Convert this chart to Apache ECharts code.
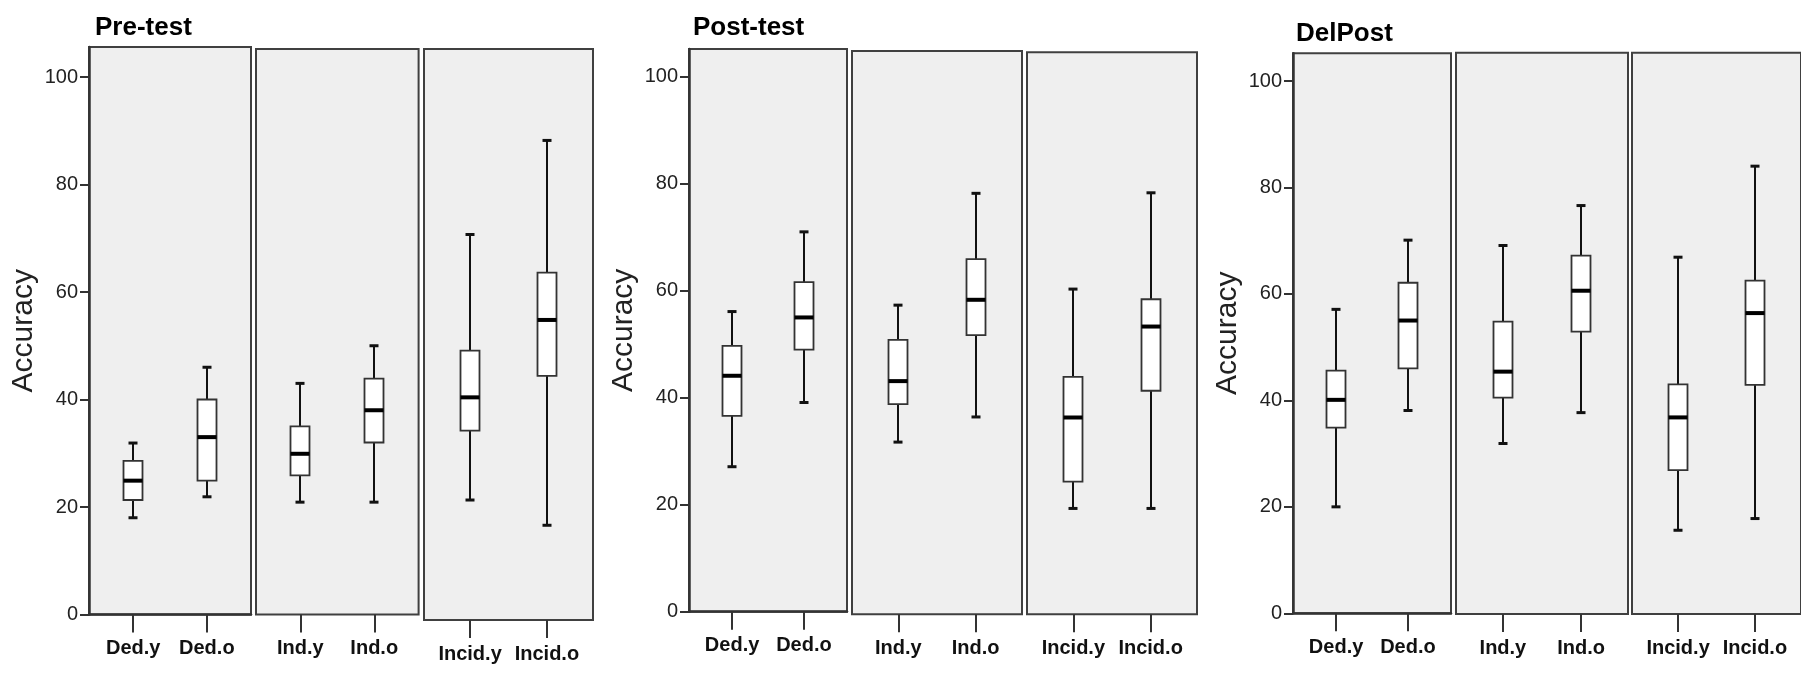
<!DOCTYPE html>
<html><head><meta charset="utf-8">
<script src="https://cdn.jsdelivr.net/npm/echarts@6/dist/echarts.min.js"></script>
<style>html,body{margin:0;padding:0;background:#fff}#c{width:1801px;height:674px}</style>
</head><body><div id="c"></div>
<script>
const testNames = ['Pre-test', 'Post-test', 'DelPost'];
const groupCats = [['Ded.y', 'Ded.o'], ['Ind.y', 'Ind.o'], ['Incid.y', 'Incid.o']];
const yTicks = [0, 20, 40, 60, 80, 100];
const yName = 'Accuracy';
// order in each array: Ded.y, Ded.o, Ind.y, Ind.o, Incid.y, Incid.o
const preLow    = [18.0, 21.9, 20.9, 20.9, 21.3, 16.6];
const preQ1     = [21.3, 24.9, 25.9, 32.0, 34.2, 44.4];
const preMedian = [24.9, 33.0, 29.9, 38.0, 40.4, 54.8];
const preQ3     = [28.6, 40.0, 35.0, 43.9, 49.1, 63.6];
const preHigh   = [31.9, 46.0, 43.0, 50.0, 70.7, 88.2];
const postLow    = [27.1, 39.1, 31.7, 36.4, 19.3, 19.3];
const postQ1     = [36.6, 49.0, 38.8, 51.7, 24.3, 41.3];
const postMedian = [44.1, 55.0, 43.1, 58.3, 36.3, 53.3];
const postQ3     = [49.7, 61.6, 50.8, 65.9, 43.9, 58.4];
const postHigh   = [56.1, 71.0, 57.3, 78.2, 60.3, 78.3];
const delLow    = [20.0, 38.1, 31.9, 37.7, 15.6, 17.8];
const delQ1     = [34.9, 46.0, 40.5, 52.9, 26.9, 42.9];
const delMedian = [40.1, 55.0, 45.4, 60.6, 36.8, 56.4];
const delQ3     = [45.6, 62.1, 54.8, 67.2, 43.0, 62.5];
const delHigh   = [57.1, 70.1, 69.1, 76.6, 66.9, 84.0];

const stats = [
  [preLow, preQ1, preMedian, preQ3, preHigh],
  [postLow, postQ1, postMedian, postQ3, postHigh],
  [delLow, delQ1, delMedian, delQ3, delHigh]
];

// layout (pixels): zero line, px per unit, panels [left,right,top,bottom]
const layout = [
  {title: [95, 15], zero: 614.5, k: 5.375, panels: [[89, 251, 47, 614.5], [256, 418.6, 49, 614.5], [424, 593, 49, 620]]},
  {title: [693, 15], zero: 611.7, k: 5.35, panels: [[689, 847, 49, 611.7], [852, 1022, 51, 614.3], [1027, 1197, 52.3, 614.3]]},
  {title: [1296, 20.5], zero: 613.3, k: 5.323, panels: [[1293, 1451, 53.3, 613.3], [1456, 1628, 52.7, 614], [1632, 1803, 52.7, 614]]}
];

const FONT = '"Liberation Sans", Arial, sans-serif';

function renderBox(params, api) {
  const x = api.value(0);
  const pLo = api.coord([x, api.value(1)]);
  const pQ1 = api.coord([x, api.value(2)]);
  const pMed = api.coord([x, api.value(3)]);
  const pQ3 = api.coord([x, api.value(4)]);
  const pHi = api.coord([x, api.value(5)]);
  const cx = Math.round(pLo[0]);
  const bw = 19, cw = 9;
  return {
    type: 'group',
    children: [
      {type: 'line', shape: {x1: cx, y1: pHi[1], x2: cx, y2: pQ3[1]}, style: {stroke: '#111', lineWidth: 2}},
      {type: 'line', shape: {x1: cx, y1: pQ1[1], x2: cx, y2: pLo[1]}, style: {stroke: '#111', lineWidth: 2}},
      {type: 'line', shape: {x1: cx - cw / 2, y1: pHi[1], x2: cx + cw / 2, y2: pHi[1]}, style: {stroke: '#111', lineWidth: 3}},
      {type: 'line', shape: {x1: cx - cw / 2, y1: pLo[1], x2: cx + cw / 2, y2: pLo[1]}, style: {stroke: '#111', lineWidth: 3}},
      {type: 'rect', shape: {x: cx - bw / 2, y: pQ3[1], width: bw, height: pQ1[1] - pQ3[1]},
        style: {fill: '#fff', stroke: '#333', lineWidth: 1.8}},
      {type: 'line', shape: {x1: cx - bw / 2, y1: pMed[1], x2: cx + bw / 2, y2: pMed[1]}, style: {stroke: '#000', lineWidth: 4}}
    ]
  };
}

const grids = [], xAxes = [], yAxes = [], series = [], titles = [];
layout.forEach((L, t) => {
  titles.push({
    text: testNames[t], left: L.title[0], top: L.title[1], padding: 0,
    textStyle: {fontFamily: FONT, fontWeight: 'bold', fontSize: 26, color: '#000'}
  });
  L.panels.forEach((p, g) => {
    const idx = grids.length;
    const [pl, pr, pt, pb] = p;
    grids.push({
      left: pl, top: pt, width: pr - pl, height: pb - pt,
      show: true, backgroundColor: '#efefef', borderColor: '#404040', borderWidth: 2
    });
    const cats = groupCats[g];
    xAxes.push({
      type: 'value', gridIndex: idx, min: -0.6, max: 1.6, position: 'bottom',
      axisLine: {show: g === 0, onZero: false, lineStyle: {color: '#333', width: 2.5}},
      axisTick: {show: true, length: 18, customValues: [0, 1], lineStyle: {color: '#333', width: 2}},
      axisLabel: {
        show: true, customValues: [0, 1], margin: 24,
        formatter: v => cats[Math.round(v)] || '',
        fontFamily: FONT, fontWeight: 'bold', fontSize: 20, color: '#111'
      },
      splitLine: {show: false}
    });
    const ymin = (L.zero - pb) / L.k, ymax = (L.zero - pt) / L.k;
    yAxes.push({
      type: 'value', gridIndex: idx, min: ymin, max: ymax, show: g === 0,
      name: g === 0 ? yName : '', nameLocation: 'middle', nameRotate: 90, nameGap: 50,
      nameTextStyle: {fontFamily: FONT, fontSize: 30, color: '#222'},
      axisLine: {show: true, onZero: false, lineStyle: {color: '#333', width: 2.5}},
      axisTick: {show: true, length: 9, customValues: yTicks, lineStyle: {color: '#333', width: 2}},
      axisLabel: {customValues: yTicks, margin: 11, fontFamily: FONT, fontSize: 20, color: '#222'},
      splitLine: {show: false}
    });
    const s = stats[t];
    const data = [0, 1].map(j => {
      const i = g * 2 + j;
      return [j, s[0][i], s[1][i], s[2][i], s[3][i], s[4][i]];
    });
    series.push({
      type: 'custom', xAxisIndex: idx, yAxisIndex: idx, renderItem: renderBox,
      encode: {x: 0, y: [1, 2, 3, 4, 5]}, data: data, clip: false, silent: true
    });
  });
});

const chart = echarts.init(document.getElementById('c'), null, {renderer: 'canvas'});
chart.setOption({
  animation: false,
  backgroundColor: '#fff',
  title: titles,
  grid: grids,
  xAxis: xAxes,
  yAxis: yAxes,
  series: series
});
</script>
</body></html>
